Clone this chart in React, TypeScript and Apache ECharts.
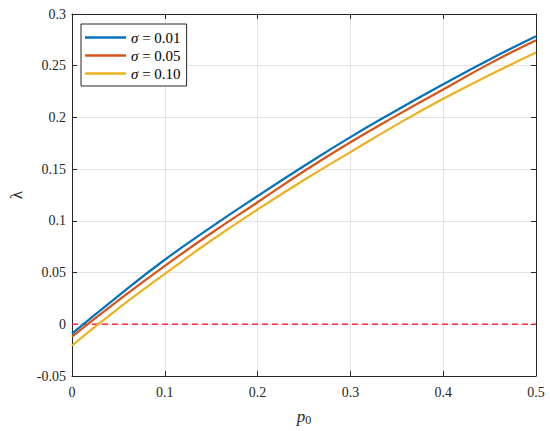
import React, { useEffect, useRef } from "react";
import * as echarts from "echarts";

const p0 = [0, 0.05, 0.1, 0.15, 0.2, 0.25, 0.3, 0.35, 0.4, 0.45, 0.5];
const sigma001 = [-0.009, 0.0275, 0.0624, 0.094, 0.124, 0.153, 0.181, 0.207, 0.232, 0.256, 0.2785];
const sigma005 = [-0.012, 0.023, 0.0565, 0.088, 0.118, 0.148, 0.176, 0.202, 0.227, 0.252, 0.2747];
const sigma010 = [-0.0205, 0.0155, 0.0487, 0.081, 0.111, 0.1395, 0.1665, 0.193, 0.218, 0.241, 0.2627];
const seriesNames = ["σ = 0.01", "σ = 0.05", "σ = 0.10"];
const colors = ["#0072BD", "#D95319", "#EDB120"];
const yMin = -0.05;
const yMax = 0.3;

const FONT = "'Liberation Serif', 'Times New Roman', serif";

export default function App() {
  const ref = useRef<HTMLDivElement>(null);
  useEffect(() => {
    if (!ref.current) return;
    const chart = echarts.init(ref.current, null, { renderer: "svg" });
    const pair = (ys: number[]) => p0.map((x, i) => [x, ys[i]]);
    const axisLine = { show: true, onZero: false, lineStyle: { color: "#262626", width: 1 } };
    const tick = { show: true, inside: true, length: 5, lineStyle: { color: "#262626" } };
    chart.setOption({
      animation: false,
      backgroundColor: "#ffffff",
      textStyle: { fontFamily: FONT },
      grid: { left: 69, right: 14, top: 14, bottom: 49, containLabel: false },
      legend: {
        data: seriesNames,
        orient: "vertical",
        left: 81,
        top: 24,
        padding: [5, 6, 4, 4],
        itemGap: 1,
        itemWidth: 41,
        itemHeight: 2.5,
        borderColor: "#262626",
        borderWidth: 1,
        borderRadius: 0,
        backgroundColor: "#ffffff",
        icon: "rect",
        formatter: (name: string) => "{i|σ}{n|" + name.slice(1) + "}",
        textStyle: {
          fontFamily: FONT,
          fontSize: 15,
          color: "#000",
          lineHeight: 17,
          rich: {
            i: { fontFamily: FONT, fontStyle: "italic", fontSize: 15, color: "#000", lineHeight: 17 },
            n: { fontFamily: FONT, fontSize: 15, color: "#000", lineHeight: 17 },
          },
        },
      },
      xAxis: [
        {
          type: "value",
          min: 0,
          max: 0.5,
          interval: 0.1,
          axisLine,
          axisTick: tick,
          axisLabel: {
            fontFamily: FONT,
            fontSize: 14,
            color: "#262626",
            margin: 9,
            formatter: (v: number) => String(Math.round(v * 10) / 10),
          },
          splitLine: { show: true, lineStyle: { color: "#e3e3e3", width: 1 } },
          name: "{p|p}{s|0}",
          nameLocation: "middle",
          nameGap: 30,
          nameTextStyle: {
            rich: {
              p: { fontFamily: FONT, fontStyle: "italic", fontSize: 17, color: "#262626" },
              s: { fontFamily: FONT, fontSize: 12, color: "#262626", verticalAlign: "bottom", padding: [8, 0, 0, 0] },
            },
          },
        },
        {
          type: "value",
          position: "top",
          min: 0,
          max: 0.5,
          interval: 0.1,
          axisLine,
          axisTick: tick,
          axisLabel: { show: false },
          splitLine: { show: false },
        },
      ],
      yAxis: [
        {
          type: "value",
          min: yMin,
          max: yMax,
          interval: 0.05,
          axisLine,
          axisTick: tick,
          axisLabel: {
            fontFamily: FONT,
            fontSize: 14,
            color: "#262626",
            margin: 6,
            formatter: (v: number) => {
              const r = Math.round(v * 100) / 100;
              return r === 0 ? "0" : String(r);
            },
          },
          splitLine: { show: true, lineStyle: { color: "#e3e3e3", width: 1 } },
          name: "λ",
          nameLocation: "middle",
          nameGap: 47,
          nameRotate: 90,
          nameTextStyle: { fontFamily: FONT, fontSize: 17, color: "#262626" },
        },
        {
          type: "value",
          position: "right",
          min: yMin,
          max: yMax,
          interval: 0.05,
          axisLine,
          axisTick: tick,
          axisLabel: { show: false },
          splitLine: { show: false },
        },
      ],
      series: [
        {
          name: "zero",
          type: "line",
          data: [[0, 0], [0.5, 0]],
          symbol: "none",
          lineStyle: { color: "#ff2a45", width: 1.5, type: [6, 4] },
          silent: true,
          z: 1,
        },
        ...[sigma001, sigma005, sigma010].map((ys, i) => ({
          name: seriesNames[i],
          type: "line",
          data: pair(ys),
          smooth: true,
          symbol: "none",
          color: colors[i],
          lineStyle: { color: colors[i], width: 2.2 },
          z: 5 - i,
        })),
      ],
    });
    return () => chart.dispose();
  }, []);
  return (
    <div
      ref={ref}
      style={{ position: "absolute", left: 0, top: 0, width: 550, height: 431 }}
    />
  );
}
